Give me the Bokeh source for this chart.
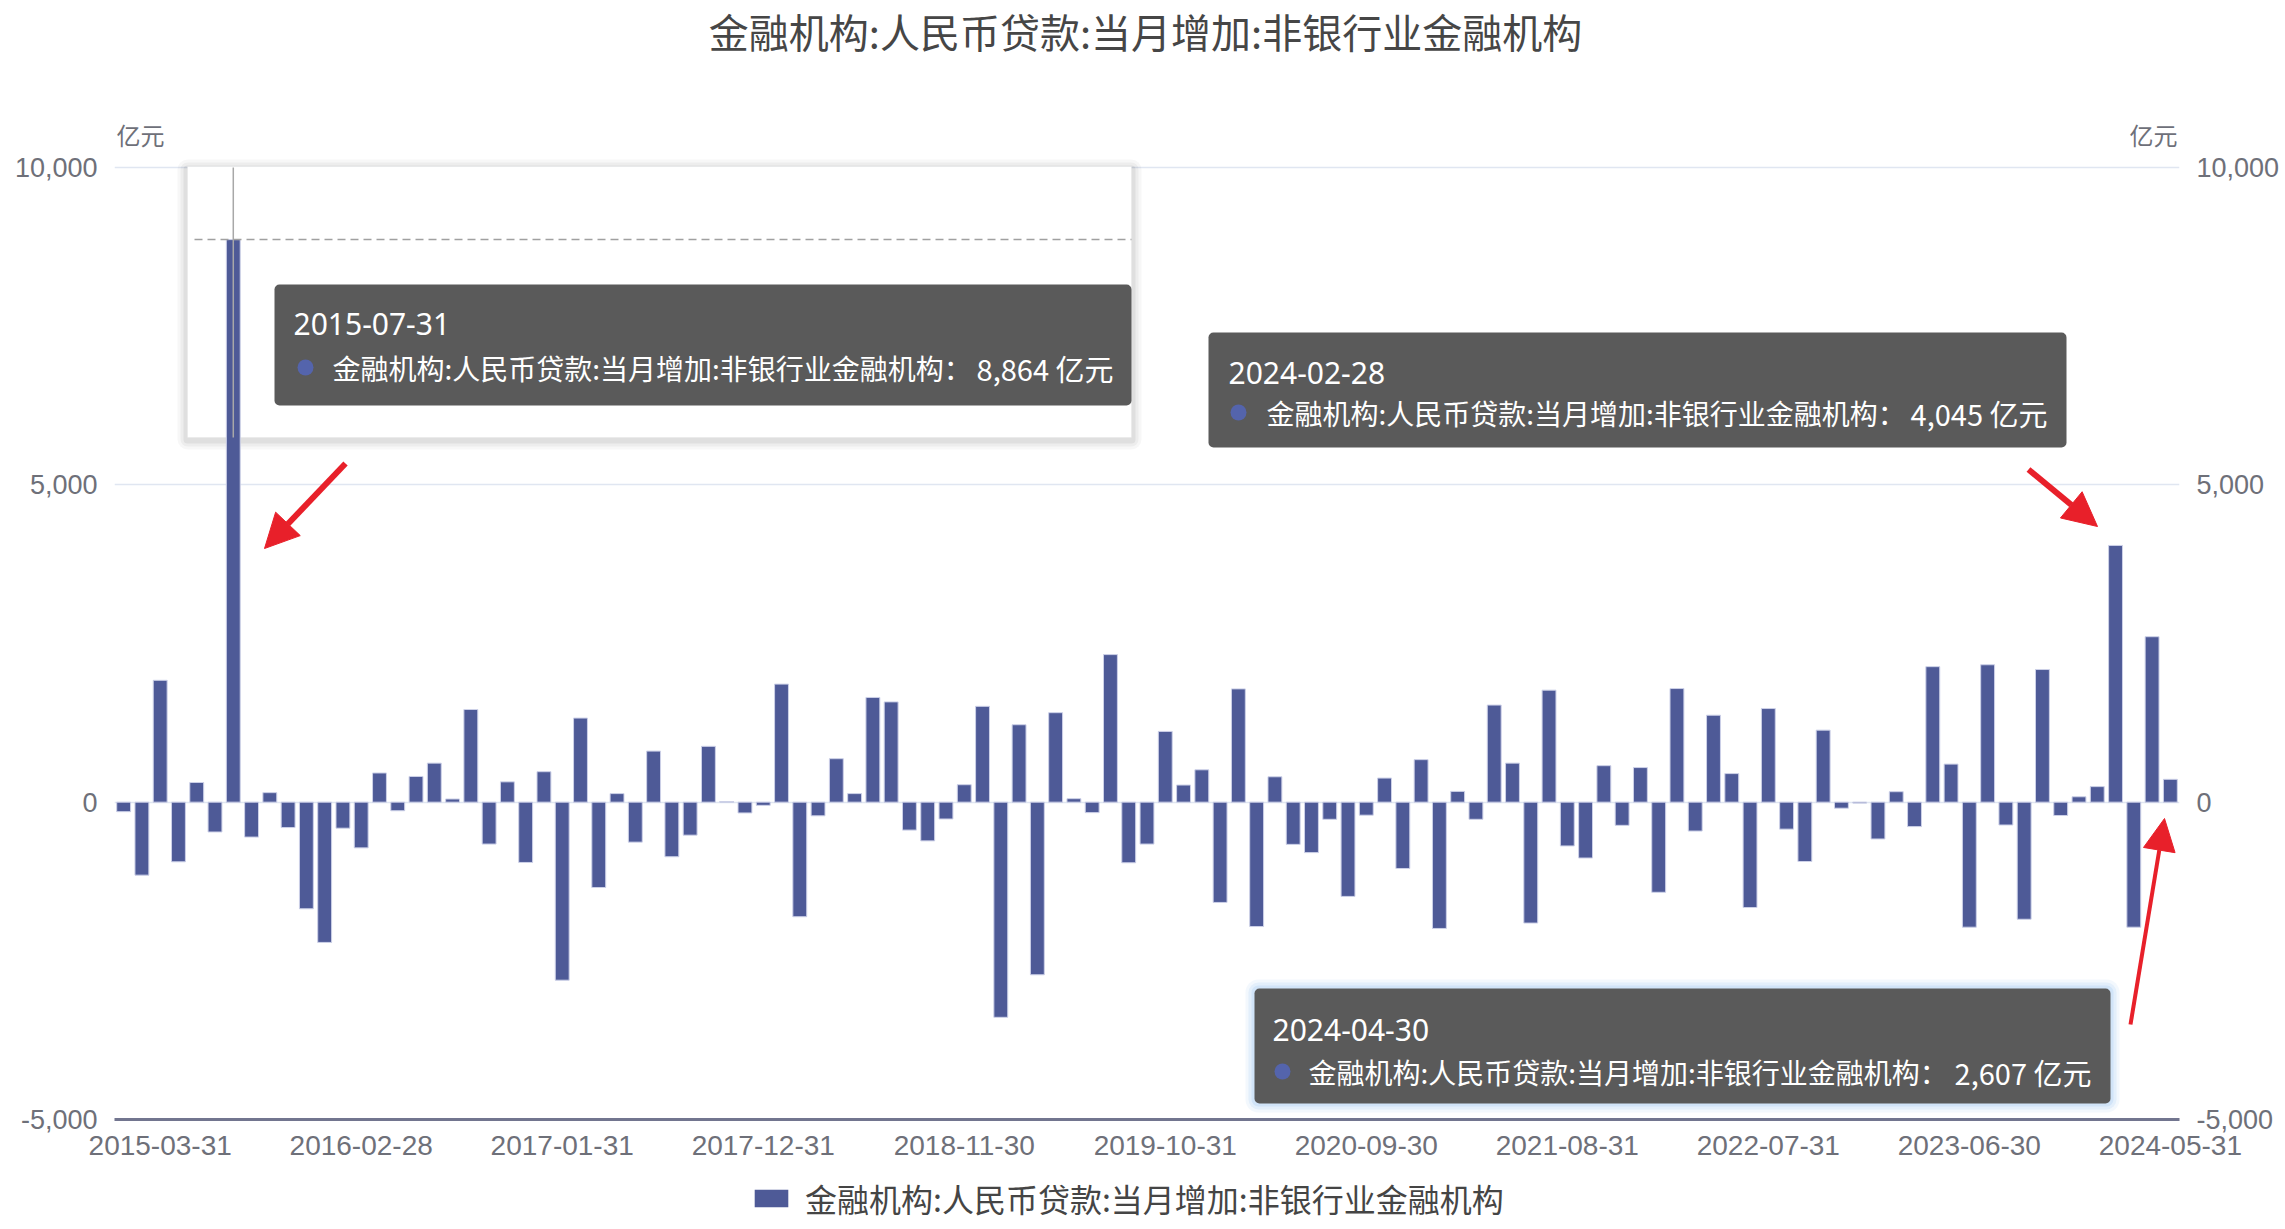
from bokeh.plotting import figure
from bokeh.layouts import column
from bokeh.models import (Range1d, LinearAxis, FixedTicker, NumeralTickFormatter,
                          Label, BoxAnnotation, Arrow, NormalHead, Legend, LegendItem,
                          ColumnDataSource)
from bokeh.embed import file_html
from bokeh.resources import INLINE

# ---------------- data ----------------
title_text = "金融机构:人民币贷款:当月增加:非银行业金融机构"
series_name = "金融机构:人民币贷款:当月增加:非银行业金融机构"
unit = "亿元"

month_days = [31, 28, 31, 30, 31, 30, 31, 31, 30, 31, 30, 31]
dates = []
for yr in range(2015, 2025):
    for m in range(1, 13):
        if yr == 2024 and m > 5:
            break
        dates.append(f"{yr}-{m:02d}-{month_days[m - 1]:02d}")

values = [
    -150, -1150, 1920, -940, 310, -470, 8864, -550, 150, -400,
    -1680, -2210, -410, -720, 460, -135, 405, 615, 50, 1460,
    -660, 320, -950, 480, -2805, 1325, -1345, 135, -630, 805,
    -860, -520, 880, 10, -170, -50, 1860, -1805, -215, 685,
    135, 1650, 1580, -440, -610, -265, 275, 1510, -3390, 1220,
    -2720, 1410, 55, -165, 2325, -955, -660, 1115, 270, 510,
    -1580, 1785, -1960, 400, -665, -795, -270, -1485, -205, 380,
    -1045, 670, -1990, 170, -270, 1530, 615, -1905, 1765, -690,
    -880, 575, -365, 545, -1420, 1790, -455, 1370, 450, -1660,
    1475, -425, -935, 1135, -95, -15, -580, 165, -385, 2135,
    600, -1970, 2165, -360, -1845, 2090, -210, 85, 245, 4045,
    -1970, 2607, 360,
]

tick_labels = ["2015-03-31", "2016-02-28", "2017-01-31", "2017-12-31", "2018-11-30",
               "2019-10-31", "2020-09-30", "2021-08-31", "2022-07-31", "2023-06-30",
               "2024-05-31"]
y_ticks = [-5000, 0, 5000, 10000]
highlight_dates = ["2015-07-31", "2024-02-28", "2024-04-30"]

N = len(dates)
Y0, Y1 = -5000, 10000

# ---------------- layout constants (pixels) ----------------
W = 2285
H_MAIN, H_LEG = 1170, 59
FR_L, FR_R = 114, 2179          # frame left / right
PX_Y1, PX_Y0 = 167, 1119        # pixel rows of 10,000 and -5,000
BAR = "#4e5a97"
RED = "#e8202a"
AX = "#6e7079"
CJK = "Noto Sans CJK SC"

UNITS_PER_PX = (Y1 - Y0) / (PX_Y0 - PX_Y1)
Y_TOP = Y1 + PX_Y1 * UNITS_PER_PX     # frame reaches the top of the canvas


def xd(px):
    return (px - FR_L) / ((FR_R - FR_L) / N) - 0.5


def yd(py):
    return Y1 - (py - PX_Y1) * UNITS_PER_PX


p = figure(width=W, height=H_MAIN, x_range=Range1d(-0.5, N - 0.5), y_range=Range1d(Y0, Y_TOP),
           output_backend="svg", toolbar_location=None,
           min_border_left=FR_L, min_border_right=W - FR_R,
           min_border_top=0, min_border_bottom=H_MAIN - PX_Y0)
p.outline_line_color = None
p.background_fill_color = "white"
p.border_fill_color = "white"

# axes
p.xaxis.ticker = FixedTicker(ticks=[dates.index(t) for t in tick_labels])
p.xaxis.major_label_overrides = {dates.index(t): t for t in tick_labels}
p.xaxis.axis_line_color = "#72758f"
p.xaxis.axis_line_width = 3
p.xaxis.major_tick_line_color = None
p.xaxis.minor_tick_line_color = None
p.xaxis.major_tick_out = 0
p.xaxis.major_tick_in = 0
p.xaxis.major_label_standoff = 16
p.xaxis.major_label_text_font = "Liberation Sans"
p.xaxis.major_label_text_font_size = "28px"
p.xaxis.major_label_text_color = AX

right_axis = LinearAxis()
p.add_layout(right_axis, "right")
for ax in (p.yaxis[0], right_axis):
    ax.ticker = FixedTicker(ticks=y_ticks)
    ax.formatter = NumeralTickFormatter(format="0,0")
    ax.axis_line_color = None
    ax.major_tick_line_color = None
    ax.minor_tick_line_color = None
    ax.major_tick_out = 0
    ax.major_tick_in = 0
    ax.major_label_standoff = 17
    ax.major_label_text_font = "Liberation Sans"
    ax.major_label_text_font_size = "27px"
    ax.major_label_text_color = AX

p.xgrid.grid_line_color = None
p.ygrid.ticker = FixedTicker(ticks=y_ticks)
p.ygrid.grid_line_color = "#e0e6f1"
p.ygrid.grid_line_width = 1.5


def box(l, t, r_, b, fill, alpha=1.0, line=None, level="annotation", radius=0, lw=1):
    p.add_layout(BoxAnnotation(left=xd(l), right=xd(r_), top=yd(t), bottom=yd(b),
                               fill_color=fill, fill_alpha=alpha, line_color=line,
                               line_width=lw, level=level, border_radius=radius))


def lab(text, px, py, size, color, align="left", font=CJK):
    p.add_layout(Label(x=xd(px), y=yd(py), text=text, text_font=font,
                       text_font_size=f"{size}px", text_color=color,
                       text_align=align, text_baseline="middle"))


# white screenshot panel (behind bars)
WB = (187, 166, 1131, 437)
for d, a in ((10, 0.03), (7, 0.04), (4, 0.06)):
    box(WB[0] - d, WB[1] - d + 3, WB[2] + d, WB[3] + d + 2, "#000000", alpha=a, level="underlay", radius=d)
box(*WB, "white", line="#e0e0e0", level="underlay")

# bars
src = ColumnDataSource(dict(x=list(range(N)), top=values, date=dates))
bars = p.vbar(x="x", top="top", bottom=0, width=0.76, source=src,
              fill_color=BAR, line_color="#cdd1e8", line_width=1)

# axis pointer on the first highlighted bar
hi = dates.index(highlight_dates[0])
p.segment(x0=[hi], y0=[Y1], x1=[hi], y1=[yd(WB[3])], line_color="#a8a8a8", line_width=1.5)
p.segment(x0=[xd(194)], y0=[values[hi]], x1=[xd(WB[2])], y1=[values[hi]],
          line_color="#a0a0a0", line_width=1.5, line_dash="8 5")

# title and unit labels
lab(title_text, 1145, 30, 40, "#464646", align="center")
lab(unit, 116, 134, 24, AX)
lab(unit, 2177, 134, 24, AX, align="right")

# tooltips
tips = [
    dict(box=(274, 284, 1131, 405), date_xy=(293, 323), dot_x=305, name_x=332, val_x=1113, row_y=367, glow=False),
    dict(box=(1208, 332, 2066, 447), date_xy=(1228, 372), dot_x=1238, name_x=1266, val_x=2047, row_y=412, glow=False),
    dict(box=(1254, 988, 2110, 1103), date_xy=(1272, 1029), dot_x=1282, name_x=1308, val_x=2091, row_y=1071, glow=True),
]
for d, tp in zip(highlight_dates, tips):
    l, t, r_, b = tp["box"]
    if tp["glow"]:
        for g, a in ((9, 0.10), (6, 0.14), (3, 0.20)):
            box(l - g, t - g, r_ + g, b + g, "#8ab8f0", alpha=a, radius=4 + g)
    box(l, t, r_, b, "#5a5a5a", radius=5)
    # round series marker
    cx, cy = tp["dot_x"], tp["row_y"]
    box(cx - 8, cy - 8, cx + 8, cy + 8, "#5464ac", radius=8)
    lab(d, tp["date_xy"][0], tp["date_xy"][1], 30, "white", font="Noto Sans")
    lab(series_name + "：", tp["name_x"], tp["row_y"], 28, "white")
    v = values[dates.index(d)]
    lab(f"{v:,} {unit}", tp["val_x"], tp["row_y"], 29, "white", align="right")


# red arrows
def arrow(x0, y0, x1, y1, w, head):
    p.add_layout(Arrow(end=NormalHead(size=head, fill_color=RED, line_color=RED, line_width=1),
                       x_start=xd(x0), y_start=yd(y0), x_end=xd(x1), y_end=yd(y1),
                       line_color=RED, line_width=w))


arrow(345, 463, 264, 548, 6, 34)
arrow(2028, 469, 2097, 526, 6, 34)
arrow(2130, 1024, 2164, 818, 4, 32)

# legend strip below the chart (frame aligned with the chart frame)
lp = figure(width=W, height=H_LEG, x_range=Range1d(0, 1), y_range=Range1d(0, 1),
            x_axis_type=None, y_axis_type=None, output_backend="svg", toolbar_location=None,
            min_border_left=FR_L, min_border_right=W - FR_R, min_border_top=0, min_border_bottom=0)
lp.outline_line_color = None
lp.xgrid.grid_line_color = None
lp.ygrid.grid_line_color = None
# legend key renderer: its single bar lies far outside the visible range
swatch = lp.vbar(x=[0.5], top=[-20], bottom=[-21], width=0.5, fill_color=BAR, line_color=None)
legend = Legend(items=[LegendItem(label=series_name, renderers=[swatch])],
                location=(750 - FR_L, 8), orientation="horizontal",
                glyph_width=42, glyph_height=22, label_standoff=13,
                label_text_font=CJK, label_text_font_size="32px",
                label_text_color="#454545", label_height=36,
                border_line_color=None, background_fill_alpha=0,
                padding=0, margin=0)
lp.add_layout(legend)

open("out.html", "w").write(file_html(column(p, lp, spacing=0), INLINE))
